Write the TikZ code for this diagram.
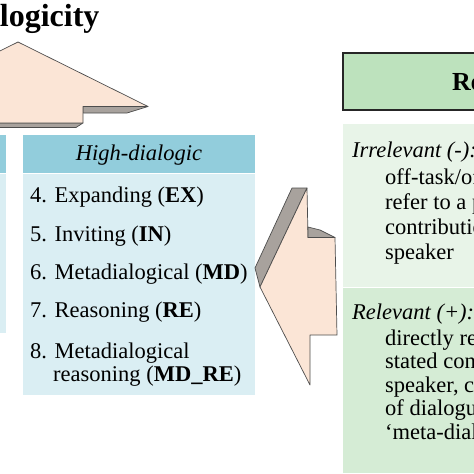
\documentclass[tikz,border=0pt]{standalone}
\usepackage{fontspec}
\setmainfont{Liberation Serif}
\definecolor{aquahead}{HTML}{92CDDC}
\definecolor{aquabody}{HTML}{DAEEF3}
\definecolor{greenhead}{HTML}{BDE2BD}
\definecolor{greenlight}{HTML}{E8F4E8}
\definecolor{greenmid}{HTML}{D5ECD5}
\definecolor{peach}{HTML}{FBE5D6}
\definecolor{shadegray}{HTML}{A8A29D}
\definecolor{edgegray}{HTML}{4D4D4D}

\begin{document}
\begin{tikzpicture}[x=1pt, y=-1pt,
    txt/.style={anchor=base west, inner sep=0pt, font=\fontsize{22.5}{24}\selectfont},
    arrowface/.style={fill=peach, draw=edgegray, line width=0.7pt, line join=round},
    arrowside/.style={fill=shadegray, draw=edgegray, line width=0.7pt, line join=round}]

    \useasboundingbox (0,0) rectangle (474,474);
    \clip (0,0) rectangle (474,474);

    % Title
    \node[anchor=base east, inner sep=0pt, font=\fontsize{32}{36}\selectfont\bfseries] (title) at (99.6,26) {Dialogicity};

    % Upward block arrow (shadow first, face on top)
    \draw[arrowside] (-47,123) -- (83,123) -- (76,127.5) -- (-47,127.5) -- cycle;
    \draw[arrowside] (83,106.5) -- (148,106.5) -- (127,113) -- (83,113) -- cycle;
    \draw[arrowface] (18,42) -- (148,106.5) -- (83,106.5) -- (83,123) -- (-47,123)
        -- (-47,106.5) -- (-112,106.5) -- cycle;

    % Low-dialogic box, mostly outside the frame
    \fill[aquahead] (-60,135) rectangle (6,172.5);
    \fill[aquabody] (-60,174) rectangle (6,333);

    % High-dialogic box
    \fill[aquahead] (23,135) rectangle (255,172.5);
    \fill[aquabody] (23,174) rectangle (255,395);
    \node[anchor=base, inner sep=0pt, font=\fontsize{22.5}{24}\selectfont\itshape] (high) at (139,160.5) {High-dialogic};

    \node[txt] (ex) at (30,202) {4. Expanding (\textbf{EX})};
    \node[txt] (in) at (30,241) {5. Inviting (\textbf{IN})};
    \node[txt] (md) at (30,279) {6. Metadialogical (\textbf{MD})};
    \node[txt] (re) at (30,317) {7. Reasoning (\textbf{RE})};
    \node[txt] (mdre) at (30,358) {8. Metadialogical};
    \node[txt] (mdreb) at (53,381) {reasoning (\textbf{MD\_RE})};

    % Left-pointing block arrow
    \draw[arrowside] (292,188) -- (307,188) -- (260,287) -- (255,268) -- cycle;
    \draw[arrowface] (307,188) -- (308,237.5) -- (335,237.5) -- (337,335) -- (310,335)
        -- (310,385) -- (260,287) -- cycle;
    \draw[arrowside] (308,227) -- (320,230) -- (335,237.5) -- (308,237.5) -- cycle;

    % Relevance header
    \draw[fill=greenhead, draw=black!85, line width=1.8pt] (343,53) rectangle (490,110);
    \node[anchor=base west, inner sep=0pt, font=\fontsize{26}{30}\selectfont\bfseries] (relev) at (452,90) {Relevance};

    % Irrelevant / relevant boxes
    \fill[greenlight] (343,124) rectangle (480,286.5);
    \fill[greenmid] (343,287.5) rectangle (480,473);

    \node[txt, font=\fontsize{22.5}{24}\selectfont\itshape] (irr) at (352,157) {Irrelevant (-):};
    \node[txt] (irra) at (385,184) {off-task/off-topic or do not};
    \node[txt] (irrb) at (385,209) {refer to a previous};
    \node[txt] (irrc) at (385,234) {contribution of another};
    \node[txt] (irrd) at (385,259) {speaker};

    \node[txt, font=\fontsize{22.5}{24}\selectfont\itshape] (rel) at (352,319) {Relevant (+):};
    \node[txt] (rela) at (385,345) {directly refer to a previously};
    \node[txt] (relb) at (385,368.5) {stated contribution of another};
    \node[txt] (relc) at (385,392) {speaker, contribute to the flow};
    \node[txt] (reld) at (385,415.5) {of dialogue, or engage in};
    \node[txt] (rele) at (385,439) {‘meta-dialogue’};
\end{tikzpicture}
\end{document}
